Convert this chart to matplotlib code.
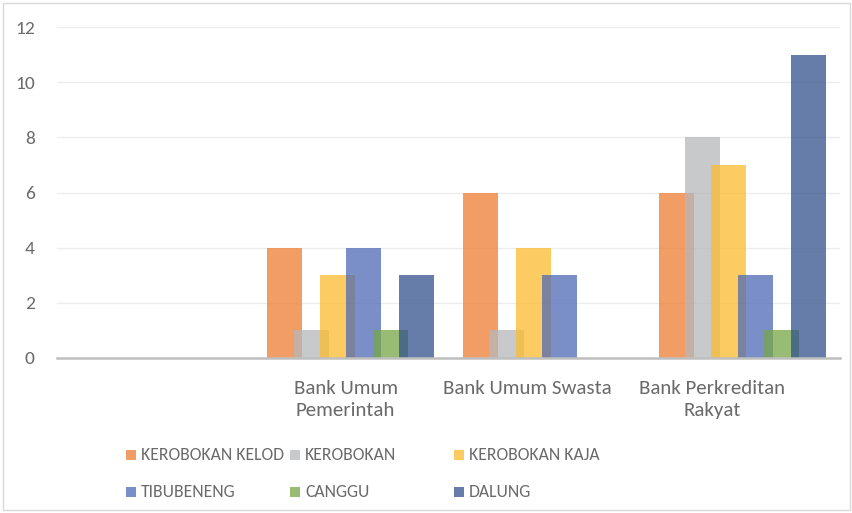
import numpy as np
import matplotlib
matplotlib.use("Agg")
import matplotlib.pyplot as plt
from matplotlib.patches import Rectangle
from matplotlib.transforms import ScaledTranslation
from matplotlib import font_manager as fm

# fuente tipo Calibri si existe
instaladas = set(f.name for f in fm.fontManager.ttflist)
if "Carlito" in instaladas:
    fuente = "Carlito"
    t_cat, t_y, t_ley = 15, 14, 12.7
else:
    fuente = "Open Sans"
    t_cat, t_y, t_ley = 13, 12.5, 11
plt.rcParams['font.family'] = [fuente, 'DejaVu Sans']
gris = "#6A6A6A"

# datos
kategori = ["", "Bank Umum\nPemerintah", "Bank Umum Swasta", "Bank Perkreditan\nRakyat"]
desa = ["KEROBOKAN KELOD", "KEROBOKAN", "KEROBOKAN KAJA", "TIBUBENENG", "CANGGU", "DALUNG"]
kerobokan_kelod = [0, 4, 6, 6]
kerobokan = [0, 1, 1, 8]
kerobokan_kaja = [0, 3, 4, 7]
tibubeneng = [0, 4, 3, 3]
canggu = [0, 1, 0, 1]
dalung = [0, 3, 0, 11]
nilai = [kerobokan_kelod, kerobokan, kerobokan_kaja, tibubeneng, canggu, dalung]
warna = ["#ED7D31", "#B6B7BA", "#FCBC2E", "#4E6AB6", "#76A646", "#32528B"]

fig = plt.figure(figsize=(8.53, 5.13), dpi=100)
ax = fig.add_axes([57/853, 155/513, (840-57)/853, (358-27)/513])

x = np.arange(len(kategori))
ancho = 0.179
paso = 0.1347
for i, (nombre, vals, c) in enumerate(zip(desa, nilai, warna)):
    ax.bar(x + (i - 2.5) * paso, vals, width=ancho, color=c, alpha=0.75,
           edgecolor="none", label=nombre, zorder=2)

ax.set_xlim(-0.5, len(kategori) - 0.5)
ax.set_ylim(0, 12)
ax.set_yticks(range(0, 13, 2))
ax.set_xticks(x)
ax.set_xticklabels(kategori, fontsize=t_cat, color=gris, linespacing=1.35)
ax.tick_params(axis="y", length=0, pad=16, labelsize=t_y, labelcolor=gris)
ax.tick_params(axis="x", length=0, pad=16)
# excel pone las etiquetas un poco a la izquierda
desplaz = [0, -5, -19, -30]
for lab, d in zip(ax.get_xticklabels(), desplaz):
    lab.set_transform(lab.get_transform() + ScaledTranslation(d / 100, 0, fig.dpi_scale_trans))
ax.grid(axis="y", color="#EDEDED", linewidth=1, zorder=0)
ax.set_axisbelow(True)
for s in ["top", "right", "left"]:
    ax.spines[s].set_visible(False)
ax.spines["bottom"].set_color("#BFBFBF")
ax.spines["bottom"].set_linewidth(1.8)
ax.spines["bottom"].set_zorder(3)

# leyenda manual (3 columnas, 2 filas)
col_x = [126, 290, 454]
fila_y = [455, 492]
for i, (nombre, c) in enumerate(zip(desa, warna)):
    cx = col_x[i % 3]
    cy = fila_y[i // 3]
    fig.patches.append(Rectangle((cx / 853, 1 - (cy + 5) / 513), 10 / 853, 10 / 513,
                                 transform=fig.transFigure, facecolor=c, alpha=0.75,
                                 edgecolor="none"))
    fig.text((cx + 15) / 853, 1 - cy / 513, nombre, fontsize=t_ley, color=gris,
             va="center", ha="left")

# marco
fig.patches.append(Rectangle((3 / 853, 3 / 513), 847 / 853, 507 / 513, transform=fig.transFigure,
                             facecolor="none", edgecolor="#D9D9D9", linewidth=1))

fig.savefig("out.png", dpi=100)
